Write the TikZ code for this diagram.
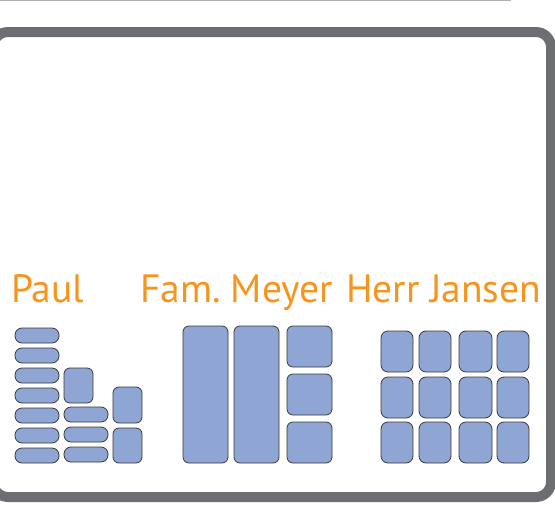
\documentclass[tikz,border=0pt]{standalone}
\usepackage{fontspec}
\setmainfont{PT Sans}
\definecolor{framegray}{HTML}{6D6E71}
\definecolor{thingray}{HTML}{B0B0B0}
\definecolor{boxblue}{HTML}{8FA5D3}
\definecolor{boxedge}{HTML}{3A3A3A}
\definecolor{labelorange}{HTML}{F7941D}
\tikzset{
  cell/.style={draw=boxedge, fill=boxblue, line width=0.8pt, rounded corners=6pt, inner sep=0pt},
  pill/.style={cell, rounded corners=7pt},
  lbl/.style={text=labelorange, font=\fontsize{39.5}{40}\selectfont, inner sep=0pt, anchor=base west}
}
% \bx{name}{x1}{y1}{x2}{y2}{style}
\newcommand{\bx}[6]{%
  \node[#6, minimum width={((#4)-(#2))*1pt}, minimum height={((#5)-(#3))*1pt}] (#1) at ({((#2)+(#4))/2},{((#3)+(#5))/2}) {};}
\begin{document}
\begin{tikzpicture}[x=1pt,y=-1pt]
\useasboundingbox (0,0) rectangle (555,509);
\begin{scope}
\clip (0,0) rectangle (555,509);
\draw[thingray, line width=1.2pt] (0,0.6) -- (511,0.6);
\draw[framegray, line width=10pt, rounded corners=15pt] (-7,32) rectangle (551,497);
\end{scope}
% labels
\node[lbl] (paul) at (11,302) {Paul};
\node[lbl] (meyer) at (140,302) {Fam.\hspace{-4pt} Meyer};
\node[lbl] (jansen) at (346,302) {Herr Jansen};
% Paul
\foreach \k in {0,...,6}{\bx{pa\k}{15}{328+20*\k}{59}{343+20*\k}{pill}}
\bx{pb0}{64}{368}{93}{403}{cell}
\foreach \k in {1,2,3}{\bx{pb\k}{64}{387+20*\k}{108}{402+20*\k}{pill}}
\bx{pc0}{113}{387}{142}{423}{cell}
\bx{pc1}{113}{428}{142}{463}{cell}
% Meyer
\bx{ma}{183}{326}{228}{463}{cell}
\bx{mb}{234}{326}{279}{463}{cell}
\bx{mc0}{287}{326}{332}{367}{cell}
\bx{mc1}{287}{374}{332}{415}{cell}
\bx{mc2}{287}{422}{332}{463}{cell}
% Jansen
\foreach \c/\xa/\xb in {0/381/413,1/419/451,2/459/492,3/497/529}{
  \foreach \r/\ya/\yb in {0/331/372,1/377/418,2/422/463}{
    \bx{j\c\r}{\xa}{\ya}{\xb}{\yb}{cell, rounded corners=7pt}
  }
}
\end{tikzpicture}
\end{document}
